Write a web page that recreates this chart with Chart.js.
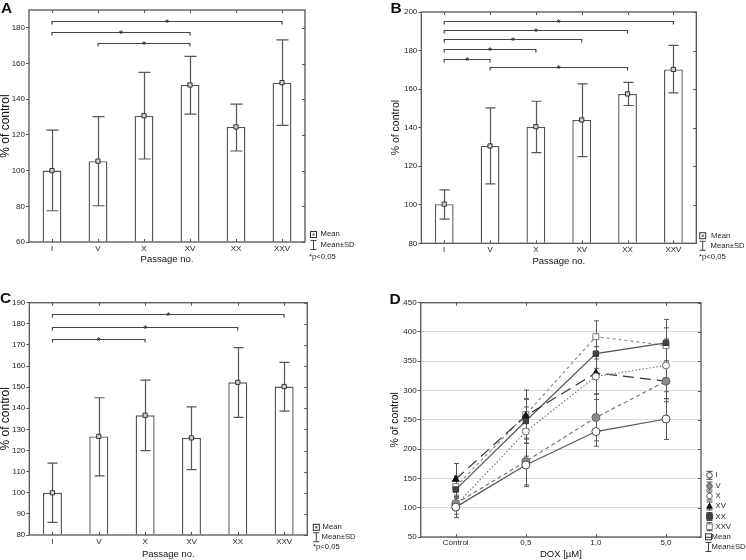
<!DOCTYPE html>
<html><head><meta charset="utf-8">
<script src="https://cdn.jsdelivr.net/npm/chart.js@4.4.1/dist/chart.umd.min.js"></script>
<style>
body{margin:0;background:#fff;width:746px;height:560px;position:relative;overflow:hidden;font-family:"Liberation Sans",Arial,sans-serif;}
.pan{position:absolute;width:373px;height:280px;}
.pan canvas{position:absolute;left:0;top:0;}
.let{position:absolute;font-weight:bold;font-size:15.5px;color:#111;line-height:1;}
.lg{position:absolute;font-size:7.7px;color:#222;line-height:1;white-space:nowrap;transform:translateY(-50%);}
</style></head><body>
<div class="pan" style="left:0;top:0"><canvas id="cA" width="373" height="280"></canvas></div>
<div class="pan" style="left:373px;top:0"><canvas id="cB" width="373" height="280"></canvas></div>
<div class="pan" style="left:0;top:280px"><canvas id="cC" width="373" height="280"></canvas></div>
<div class="pan" style="left:373px;top:280px"><canvas id="cD" width="373" height="280"></canvas></div>

<div class="let" style="left:1px;top:-0.5px">A</div>
<div class="let" style="left:390.5px;top:-0.5px">B</div>
<div class="let" style="left:0px;top:289.5px">C</div>
<div class="let" style="left:389.5px;top:290.5px">D</div>

<div class="lg" style="left:320.5px;top:234.3px">Mean</div>
<div class="lg" style="left:320.5px;top:245px">Mean±SD</div>
<div class="lg" style="left:309px;top:256.5px">*p&lt;0,05</div>

<div class="lg" style="left:711px;top:235.5px">Mean</div>
<div class="lg" style="left:710.5px;top:245.7px">Mean±SD</div>
<div class="lg" style="left:699px;top:257.3px">*p&lt;0,05</div>

<div class="lg" style="left:322.5px;top:526.7px">Mean</div>
<div class="lg" style="left:321.5px;top:536.7px">Mean±SD</div>
<div class="lg" style="left:313px;top:546.7px">*p&lt;0,05</div>

<div id="legD"></div>

<script>
// ---------- DATA ----------
const passages = ['I', 'V', 'X', 'XV', 'XX', 'XXV'];

// Panel A
const ticksA = [60, 80, 100, 120, 140, 160, 180];
const meanA = [100, 105.3, 130.8, 148, 124.5, 149.3];
const lowA  = [77.5, 80.3, 106.5, 131.7, 111, 125.3];
const highA = [122.7, 130.3, 155, 164, 137.3, 173.3];
const sigA  = [[0, 5, 184], [0, 3, 177.7], [1, 3, 171.6]];

// Panel B
const ticksB = [80, 100, 120, 140, 160, 180, 200];
const meanB = [100.3, 130.5, 140.5, 144, 157.5, 170.2];
const lowB  = [92.5, 110.8, 127, 125, 151.5, 158];
const highB = [107.7, 150.3, 153.7, 162.7, 163.5, 182.7];
const sigB  = [[0, 5, 195.2], [0, 4, 190.8], [0, 3, 186], [0, 2, 180.8], [0, 1, 175.6], [1, 4, 171.3]];

// Panel C
const ticksC = [80, 90, 100, 110, 120, 130, 140, 150, 160, 170, 180, 190];
const meanC = [100, 126.7, 136.7, 126, 152.3, 150.3];
const lowC  = [86, 108, 120, 111, 135.7, 138.7];
const highC = [114, 145, 153.3, 140.7, 168.7, 161.7];
const sigC  = [[0, 5, 184.8], [0, 4, 178.6], [0, 2, 172.6]];

// Panel D
const doses = ['Control', '0,5', '1,0', '5,0'];
const ticksD = [50, 100, 150, 200, 250, 300, 350, 400, 450];
const seriesD = ['I', 'V', 'X', 'XV', 'XX', 'XXV'];
const meanD_I   = [101, 173, 230, 251.5];
const meanD_V   = [107, 179, 254, 316];
const meanD_X   = [104, 230, 324, 343];
const meanD_XV  = [148.5, 257, 330, 316];
const meanD_XX  = [131, 248, 363, 381.5];
const meanD_XXV = [136, 259, 392, 377];
const sdD_I   = [18, 37, 25, 35];
const sdD_V   = [12, 40, 40, 30];
const sdD_X   = [15, 42, 30, 45];
const sdD_XV  = [27, 28, 45, 35];
const sdD_XX  = [15, 38, 25, 40];
const sdD_XXV = [18, 42, 27, 30];

// ---------- PLUGINS ----------
const FONT = '"Liberation Sans", Arial, sans-serif';

const framePlugin = {
  id: 'frame',
  afterDatasetsDraw(chart, args, o) {
    const {ctx, chartArea: a, scales} = chart;
    ctx.save();
    ctx.strokeStyle = o.color || '#555';
    ctx.lineWidth = o.width || 1.3;
    ctx.strokeRect(a.left, a.top, a.right - a.left, a.bottom - a.top);
    ctx.lineWidth = 1;
    scales.y.ticks.forEach(t => {
      const y = Math.round(scales.y.getPixelForValue(t.value)) + 0.5;
      ctx.beginPath(); ctx.moveTo(a.right, y); ctx.lineTo(a.right - 3, y); ctx.stroke();
    });
    scales.x.ticks.forEach((t, i) => {
      const x = Math.round(scales.x.getPixelForValue(i)) + 0.5;
      ctx.beginPath(); ctx.moveTo(x, a.top); ctx.lineTo(x, a.top + 3); ctx.stroke();
      ctx.beginPath(); ctx.moveTo(x, a.bottom); ctx.lineTo(x, a.bottom - 3); ctx.stroke();
    });
    ctx.restore();
  }
};

function drawErr(chart, o) {
  const {ctx, scales: {x, y}} = chart;
  ctx.save();
  ctx.strokeStyle = o.color; ctx.lineWidth = o.width;
  o.sets.forEach(s => {
    s.low.forEach((lo, i) => {
      const px = Math.round(x.getPixelForValue(i)) + 0.5;
      const y1 = y.getPixelForValue(lo), y2 = y.getPixelForValue(s.high[i]);
      const c = o.cap / 2;
      ctx.beginPath();
      ctx.moveTo(px, y1); ctx.lineTo(px, y2);
      ctx.moveTo(px - c, y1); ctx.lineTo(px + c, y1);
      ctx.moveTo(px - c, y2); ctx.lineTo(px + c, y2);
      ctx.stroke();
    });
  });
  ctx.restore();
}

const errPlugin = {
  id: 'errbars',
  beforeDatasetsDraw(chart, args, o) { if (!o.afterBar) drawErr(chart, o); },
  afterDatasetDraw(chart, args, o) { if (o.afterBar && args.meta.type === 'bar') drawErr(chart, o); }
};

const bracketPlugin = {
  id: 'brackets',
  afterDatasetsDraw(chart, args, o) {
    if (!o.items) return;
    const {ctx, scales: {x, y}} = chart;
    ctx.save();
    ctx.strokeStyle = '#444'; ctx.lineWidth = 1.2; ctx.fillStyle = '#222';
    ctx.font = '10px ' + FONT; ctx.textAlign = 'center'; ctx.textBaseline = 'alphabetic';
    o.items.forEach(([i, j, v]) => {
      const x1 = x.getPixelForValue(i), x2 = x.getPixelForValue(j);
      const py = Math.round(y.getPixelForValue(v)) + 0.5;
      ctx.beginPath();
      ctx.moveTo(x1, py + 3); ctx.lineTo(x1, py); ctx.lineTo(x2, py); ctx.lineTo(x2, py + 3);
      ctx.stroke();
      ctx.fillText('*', (x1 + x2) / 2, py + 5.5);
    });
    ctx.restore();
  }
};

function drawMarker(ctx, style, x, y, r, fill, stroke) {
  ctx.beginPath();
  if (style === 'circle') ctx.arc(x, y, r, 0, Math.PI * 2);
  else if (style === 'rect') ctx.rect(x - r, y - r, 2 * r, 2 * r);
  else if (style === 'triangle') { ctx.moveTo(x, y - r); ctx.lineTo(x + r, y + r * 0.8); ctx.lineTo(x - r, y + r * 0.8); ctx.closePath(); }
  ctx.fillStyle = fill; ctx.fill();
  ctx.strokeStyle = stroke; ctx.lineWidth = 1; ctx.stroke();
}
function drawIbeam(ctx, x, y1, y2, w) {
  ctx.beginPath();
  ctx.moveTo(x, y1); ctx.lineTo(x, y2);
  ctx.moveTo(x - w / 2, y1); ctx.lineTo(x + w / 2, y1);
  ctx.moveTo(x - w / 2, y2); ctx.lineTo(x + w / 2, y2);
  ctx.strokeStyle = '#444'; ctx.lineWidth = 1; ctx.stroke();
}

const iconPlugin = {
  id: 'icons',
  afterDraw(chart, args, o) {
    const ctx = chart.ctx;
    ctx.save();
    (o.items || []).forEach(it => {
      if (it.t === 'mean') {
        ctx.strokeStyle = '#333'; ctx.lineWidth = 1;
        ctx.strokeRect(it.x - 3, it.y - 3, 6, 6);
        ctx.fillStyle = '#555'; ctx.fillRect(it.x - 1, it.y - 1, 2, 2);
      } else if (it.t === 'sd') {
        drawIbeam(ctx, it.x, it.y - 4.5, it.y + 4.5, 6);
      } else if (it.t === 'ser') {
        drawIbeam(ctx, it.x, it.y - 4, it.y + 4, 6);
        drawMarker(ctx, it.s, it.x, it.y, 2.8, it.f, it.c);
      } else if (it.t === 'meanD') {
        ctx.strokeStyle = '#333'; ctx.lineWidth = 1;
        ctx.strokeRect(it.x - 3, it.y - 3, 6, 6);
        ctx.beginPath(); ctx.moveTo(it.x - 3, it.y + 0.5); ctx.lineTo(it.x + 3, it.y + 0.5); ctx.stroke();
      }
    });
    ctx.restore();
  }
};

// ---------- BAR PANELS ----------
function barPanel(id, mean, low, high, sig, ticks, ymin, ymax, g) {
  return new Chart(document.getElementById(id), {
    type: 'bar',
    data: {
      labels: passages,
      datasets: [
        {type: 'line', data: mean, showLine: false, pointStyle: 'rect', pointRadius: 3,
         pointBackgroundColor: '#d0d0d0', pointBorderColor: '#333', pointBorderWidth: 1, order: 0},
        {type: 'bar', data: mean, base: ymin, backgroundColor: '#fff', borderColor: '#555',
         borderWidth: 1.4, barPercentage: 0.41, categoryPercentage: 1, order: 1}
      ]
    },
    options: {
      responsive: false, animation: false, events: [],
      layout: {padding: {top: g.top, right: g.right, left: 0, bottom: 0}},
      plugins: {
        legend: {display: false}, tooltip: {enabled: false},
        errbars: {sets: [{low, high}], cap: g.cap, color: '#555', width: 1.2, afterBar: true},
        brackets: {items: sig},
        frame: {color: '#555', width: 1.3},
        icons: {items: g.icons}
      },
      scales: {
        x: {
          offset: true,
          grid: {display: false, drawTicks: false}, border: {display: false},
          ticks: {color: '#222', font: {size: 8, family: FONT}, padding: g.xpad, maxRotation: 0},
          title: {display: true, text: 'Passage no.', color: '#111',
                  font: {size: 9.5, family: FONT, lineHeight: 1}, padding: {top: 0, bottom: g.xtitle}},
          afterFit(s) { s.height = g.xh; }
        },
        y: {
          min: ymin, max: ymax,
          afterBuildTicks(s) { s.ticks = ticks.map(v => ({value: v})); },
          grid: {display: true, drawOnChartArea: false, drawTicks: true, tickLength: 3, color: '#555'},
          border: {display: false},
          ticks: {color: '#222', font: {size: 8, family: FONT}, padding: 1},
          title: {display: true, text: '% of control', color: '#111',
                  font: {size: g.yfs, family: FONT, lineHeight: 1}, padding: {top: g.ytitle, bottom: 0}},
          afterFit(s) { s.width = g.yw; }
        }
      }
    },
    plugins: [errPlugin, bracketPlugin, framePlugin, iconPlugin]
  });
}

barPanel('cA', meanA, lowA, highA, sigA, ticksA, 60, 190,
  {top: 10, right: 68, yw: 29, xh: 38, xpad: 1.5, xtitle: 15.5, ytitle: 0, yfs: 12, cap: 12,
   icons: [{t: 'mean', x: 313.5, y: 234.5}, {t: 'sd', x: 313.5, y: 245}]});
barPanel('cB', meanB, lowB, highB, sigB, ticksB, 80, 200,
  {top: 12, right: 49.7, yw: 48.3, xh: 36.7, xpad: 2, xtitle: 13.5, ytitle: 18, yfs: 10.5, cap: 10,
   icons: [{t: 'mean', x: 329.7, y: 235.7}, {t: 'sd', x: 329.7, y: 245.8}]});
barPanel('cC', meanC, lowC, highC, sigC, ticksC, 80, 190,
  {top: 22.7, right: 65.7, yw: 29.3, xh: 25, xpad: 2, xtitle: 1.2, ytitle: 0, yfs: 12, cap: 10,
   icons: [{t: 'mean', x: 316.3, y: 247.3}, {t: 'sd', x: 316.3, y: 257.2}]});

// ---------- PANEL D ----------
const stylesD = [
  {dash: [], color: '#555', ps: 'circle', pf: '#fff', pc: '#444', r: 4},
  {dash: [4, 3], color: '#777', ps: 'circle', pf: '#8a8a8a', pc: '#666', r: 4},
  {dash: [1.5, 2], color: '#777', ps: 'circle', pf: '#fff', pc: '#666', r: 3.5},
  {dash: [11, 6], color: '#333', ps: 'triangle', pf: '#111', pc: '#111', r: 4},
  {dash: [], color: '#555', ps: 'rect', pf: '#444', pc: '#333', r: 3.8},
  {dash: [3, 3], color: '#888', ps: 'rect', pf: '#fff', pc: '#777', r: 4.2}
];
const meansD = [meanD_I, meanD_V, meanD_X, meanD_XV, meanD_XX, meanD_XXV];
const sdsD = [sdD_I, sdD_V, sdD_X, sdD_XV, sdD_XX, sdD_XXV];

const legRows = [195.3, 206, 216, 226, 236.5, 246.7, 256.8, 267];
const iconsD = seriesD.map((s, i) => ({t: 'ser', x: 336.5, y: legRows[i], s: stylesD[i].ps, f: stylesD[i].pf, c: stylesD[i].pc}));
iconsD.push({t: 'meanD', x: 335.5, y: legRows[6]});
iconsD.push({t: 'sd', x: 335.5, y: legRows[7]});

new Chart(document.getElementById('cD'), {
  type: 'line',
  data: {
    labels: doses,
    datasets: seriesD.map((s, i) => ({
      label: s, data: meansD[i], borderColor: stylesD[i].color, borderWidth: 1.2,
      borderDash: stylesD[i].dash, tension: 0, fill: false,
      pointStyle: stylesD[i].ps, pointRadius: stylesD[i].r,
      pointBackgroundColor: stylesD[i].pf, pointBorderColor: stylesD[i].pc, pointBorderWidth: 1
    }))
  },
  options: {
    responsive: false, animation: false, events: [],
    layout: {padding: {top: 22.7, right: 45, left: 0, bottom: 0}},
    plugins: {
      legend: {display: false}, tooltip: {enabled: false},
      errbars: {sets: meansD.map((m, i) => ({low: m.map((v, k) => v - sdsD[i][k]), high: m.map((v, k) => v + sdsD[i][k])})),
                cap: 5, color: '#555', width: 1},
      brackets: {},
      frame: {color: '#555', width: 1.3},
      icons: {items: iconsD}
    },
    scales: {
      x: {
        offset: true,
        grid: {display: false, drawTicks: false}, border: {display: false},
        ticks: {color: '#222', font: {size: 8, family: FONT}, padding: 1, maxRotation: 0},
        title: {display: true, text: 'DOX [µM]', color: '#111',
                font: {size: 9.5, family: FONT, lineHeight: 1}, padding: {top: 0, bottom: 0.5}},
        afterFit(s) { s.height = 23; }
      },
      y: {
        min: 50, max: 450,
        afterBuildTicks(s) { s.ticks = ticksD.map(v => ({value: v})); },
        grid: {display: true, drawOnChartArea: true, drawTicks: true, tickLength: 3,
               color: '#dcdcdc', tickColor: '#555'},
        border: {display: false},
        ticks: {color: '#222', font: {size: 8, family: FONT}, padding: 1},
        title: {display: true, text: '% of control', color: '#111',
                font: {size: 10.5, family: FONT, lineHeight: 1}, padding: {top: 16.5, bottom: 0}},
        afterFit(s) { s.width = 47.7; }
      }
    }
  },
  plugins: [errPlugin, framePlugin, iconPlugin]
});

// D legend text
const legTexts = seriesD.concat(['Mean', 'Mean±SD']);
const legD = document.getElementById('legD');
legTexts.forEach((t, i) => {
  const d = document.createElement('div');
  d.className = 'lg';
  d.style.left = (i < 6 ? 715.5 : 711.5) + 'px';
  d.style.top = (280 + legRows[i]) + 'px';
  d.textContent = t;
  legD.appendChild(d);
});
</script>
</body></html>
